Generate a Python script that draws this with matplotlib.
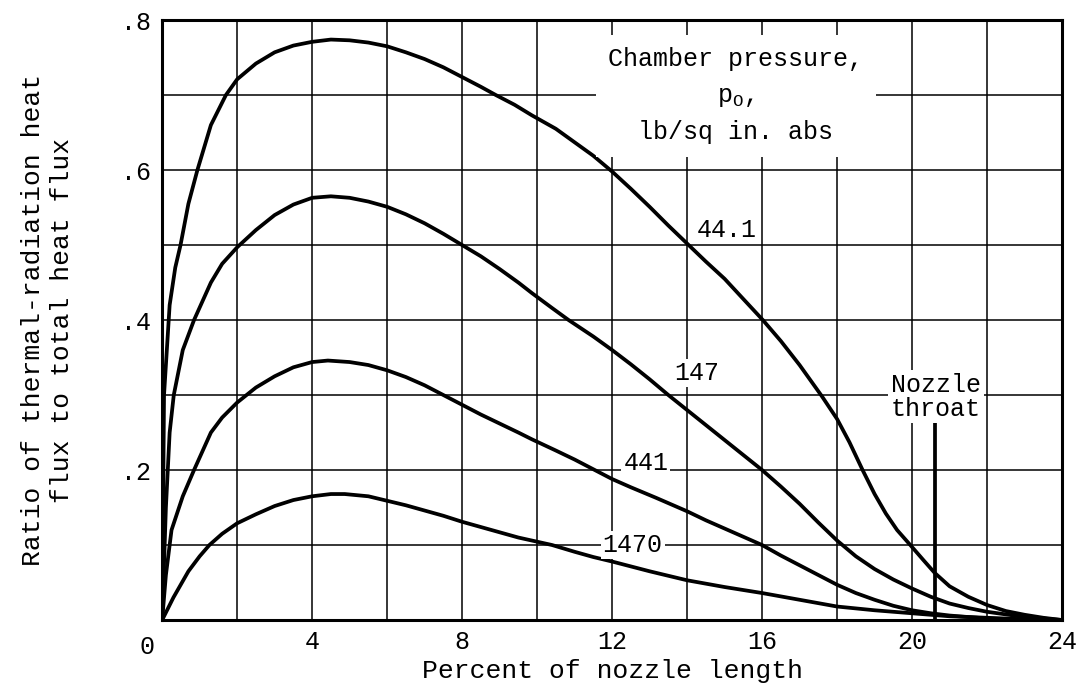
import matplotlib
matplotlib.use('Agg')
import matplotlib.pyplot as plt
from matplotlib.ticker import FixedLocator, FixedFormatter, MultipleLocator

plt.rcParams['font.family'] = ['Liberation Mono', 'DejaVu Sans Mono']
plt.rcParams['mathtext.fontset'] = 'custom'
plt.rcParams['mathtext.rm'] = 'Liberation Mono'
plt.rcParams['mathtext.it'] = 'Liberation Mono'

# radiation / total heat flux along the nozzle, one curve per chamber pressure
x_441 = [0, 0.05, 0.2, 0.35, 0.49, 0.7, 0.94, 1.3, 1.7, 2, 2.5, 3, 3.5, 4,
         4.5, 5, 5.5, 6, 6.5, 7, 7.5, 8, 8.5, 8.9, 9.4, 9.86, 10.5, 11, 11.5,
         12, 12.5, 13, 13.5, 14, 14.5, 15, 15.5, 16.02, 16.5, 17, 17.6, 18,
         18.33, 18.68, 19, 19.3, 19.6, 19.97, 20.3, 20.6, 21, 21.5, 22, 22.5,
         23, 23.5, 24]
y_441 = [0, 0.3, 0.42, 0.47, 0.5, 0.555, 0.6, 0.66, 0.7, 0.721, 0.742, 0.757,
         0.766, 0.771, 0.774, 0.773, 0.77, 0.765, 0.757, 0.748, 0.737, 0.724,
         0.711, 0.7, 0.687, 0.673, 0.655, 0.637, 0.619, 0.598, 0.575, 0.551,
         0.526, 0.502, 0.478, 0.455, 0.428, 0.4, 0.372, 0.34, 0.298, 0.268,
         0.237, 0.2, 0.168, 0.142, 0.12, 0.099, 0.08, 0.063, 0.045, 0.031,
         0.02, 0.012, 0.007, 0.003, 0]

x_147 = [0, 0.1, 0.2, 0.31, 0.55, 0.85, 1.3, 1.6, 2, 2.5, 3, 3.5, 4, 4.5, 5,
         5.5, 6, 6.5, 7, 7.5, 8, 8.5, 9, 9.5, 9.86, 10.4, 10.84, 11.5, 12,
         12.5, 13, 13.5, 14, 14.5, 15, 15.5, 16, 16.5, 17, 17.5, 18, 18.5, 19,
         19.5, 20, 20.5, 21, 21.5, 22, 23, 24]
y_147 = [0, 0.15, 0.25, 0.3, 0.36, 0.4, 0.45, 0.475, 0.497, 0.52, 0.54, 0.554,
         0.563, 0.565, 0.563, 0.558, 0.551, 0.541, 0.529, 0.515, 0.5, 0.485,
         0.468, 0.45, 0.436, 0.416, 0.4, 0.378, 0.36, 0.341, 0.321, 0.3, 0.28,
         0.26, 0.24, 0.22, 0.2, 0.178, 0.155, 0.13, 0.106, 0.085, 0.068,
         0.054, 0.042, 0.031, 0.022, 0.016, 0.011, 0.004, 0]

x_44 = [0, 0.1, 0.25, 0.55, 0.85, 1.3, 1.6, 2, 2.5, 3, 3.5, 4, 4.42, 5, 5.5,
        6, 6.5, 7, 7.5, 8, 8.5, 9, 9.5, 9.86, 10.5, 11, 11.5, 12, 12.5, 13.17,
        14, 14.5, 15, 15.5, 16, 16.5, 17, 17.5, 18, 18.5, 19, 19.5, 20, 20.5,
        21, 22, 23, 23.6]
y_44 = [0, 0.06, 0.12, 0.165, 0.2, 0.25, 0.27, 0.29, 0.31, 0.325, 0.337,
        0.344, 0.346, 0.344, 0.34, 0.333, 0.324, 0.313, 0.3, 0.287, 0.274,
        0.262, 0.25, 0.241, 0.226, 0.214, 0.201, 0.188, 0.177, 0.163, 0.145,
        0.133, 0.122, 0.111, 0.1, 0.086, 0.073, 0.06, 0.047, 0.036, 0.027,
        0.019, 0.013, 0.009, 0.006, 0.002, 0.0005, 0]

x_1470 = [0, 0.3, 0.7, 1.0, 1.26, 1.6, 2, 2.5, 3, 3.5, 4, 4.5, 4.87, 5.5, 6,
          6.5, 7, 7.5, 8, 8.5, 9, 9.5, 10.4, 11, 11.5, 12, 13, 14, 15, 16, 17,
          18, 19, 20, 21, 22, 23, 23.8]
y_1470 = [0, 0.03, 0.065, 0.085, 0.1, 0.115, 0.129, 0.141, 0.152, 0.16,
          0.165, 0.168, 0.168, 0.165, 0.159, 0.153, 0.146, 0.139, 0.131,
          0.124, 0.117, 0.11, 0.1, 0.091, 0.084, 0.078, 0.065, 0.053, 0.044,
          0.036, 0.027, 0.018, 0.013, 0.009, 0.005, 0.003, 0.001, 0]

curve_labels = ['44.1', '147', '441', '1470']
label_x = [15.05, 14.25, 12.9, 12.55]
label_y = [0.52, 0.329, 0.21, 0.1]

throat_x = 20.6
throat_top = 0.263

x_ticks = [4, 8, 12, 16, 20, 24]
y_ticks = [0.2, 0.4, 0.6, 0.8]
y_tick_labels = ['.2', '.4', '.6', '.8']


def main():
    fig = plt.figure(figsize=(10.81, 6.92), dpi=100)
    ax = fig.add_axes([0.15, 0.104, 0.8325, 0.867])

    ax.set_xlim(0, 24)
    ax.set_ylim(0, 0.8)

    ax.xaxis.set_major_locator(FixedLocator(x_ticks))
    ax.xaxis.set_minor_locator(MultipleLocator(2))
    ax.yaxis.set_major_locator(FixedLocator(y_ticks))
    ax.yaxis.set_major_formatter(FixedFormatter(y_tick_labels))
    ax.yaxis.set_minor_locator(MultipleLocator(0.1))
    ax.tick_params(which='both', length=0, labelsize=18, colors='black')
    ax.tick_params(axis='x', pad=7)
    ax.tick_params(axis='y', pad=8)
    ax.grid(which='both', color='black', lw=1.1)
    ax.set_axisbelow(True)
    for sp in ax.spines.values():
        sp.set_linewidth(2.2)

    # the origin label sits a little left of the corner
    ax.annotate('0', xy=(0, 0), xytext=(-11, -11), textcoords='offset points',
                ha='center', va='top', fontsize=18)

    for xs, ys in [(x_441, y_441), (x_147, y_147), (x_44, y_44), (x_1470, y_1470)]:
        ax.plot(xs, ys, color='black', lw=2.7, solid_capstyle='round',
                solid_joinstyle='round', zorder=3)

    box = dict(facecolor='white', edgecolor='none', pad=1.5)
    for text, lx, ly in zip(curve_labels, label_x, label_y):
        ax.text(lx, ly, text, ha='center', va='center', fontsize=18,
                bbox=box, zorder=4)

    ax.text(15.3, 0.699, 'Chamber pressure,\np$_\\mathrm{O}$,\nlb/sq in. abs',
            ha='center', va='center', fontsize=18, linespacing=1.6,
            bbox=dict(facecolor='white', edgecolor='none', pad=9), zorder=4)

    ax.text(20.64, 0.298, 'Nozzle\nthroat', ha='center', va='center',
            fontsize=18, linespacing=1.0,
            bbox=dict(facecolor='white', edgecolor='none', pad=2), zorder=4)
    ax.plot([throat_x, throat_x], [0, throat_top], color='black', lw=2.7,
            zorder=3)

    ax.set_xlabel('Percent of nozzle length', fontsize=19, labelpad=4)
    ax.set_ylabel('Ratio of thermal-radiation heat\nflux to total heat flux',
                  fontsize=19, labelpad=34, linespacing=1.25)

    fig.savefig('out.png', dpi=100)


if __name__ == '__main__':
    main()
